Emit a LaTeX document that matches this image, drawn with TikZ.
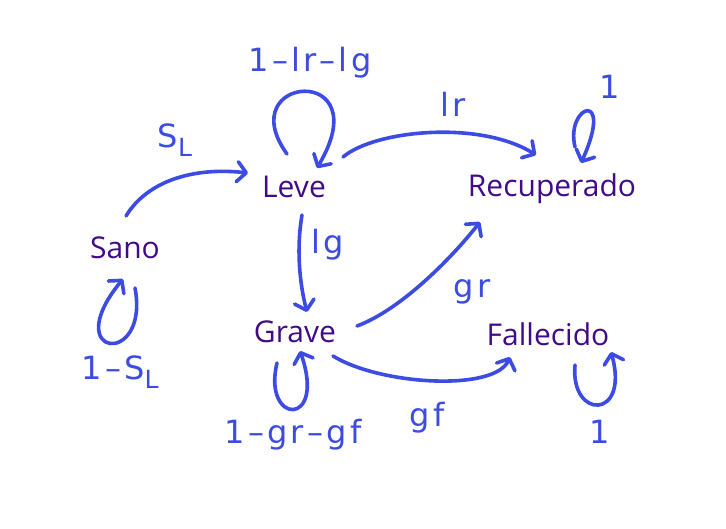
\documentclass[tikz,border=0pt]{standalone}
\usepackage{fontspec}
\setmainfont{Open Sans}
\newfontfamily\handfont[LetterSpace=10]{DejaVu Sans}
\usetikzlibrary{arrows.meta,calc}
\definecolor{stc}{RGB}{65,10,135}
\definecolor{pen}{RGB}{60,75,225}
\newcommand{\subL}{\raisebox{-9pt}{\fontsize{25}{30}\selectfont L}}
\tikzset{
 st/.style={text=stc, font=\fontsize{30}{36}\selectfont, inner sep=0pt, anchor=base},
 lbl/.style={text=pen, font=\handfont\fontsize{32}{38}\selectfont, inner sep=0pt},
 edge/.style={draw=pen, line width=3.6pt, line cap=round, line join=round,
   -{Straight Barb[length=9pt,width=20pt,line cap=round,line join=round]}},
}
\begin{document}
\begin{tikzpicture}[x=1pt,y=-1pt]
\fill[white] (0,0) rectangle (726,529);
\useasboundingbox (0,0) rectangle (726,529);
% states
\node[st] (sano) at (125,259) {Sano};
\node[st] (leve) at (294,198) {Leve};
\node[st] (recup) at (552,197) {Recuperado};
\node[st] (grave) at (295,343) {Grave};
\node[st] (fall) at (548,346) {Fallecido};
% edges
\draw[edge] ($(sano.base)+(1,-43)$) .. controls (148,180) and (195,167) .. ($(leve.base)+(-46,-25)$);
\draw[edge] ($(leve.base)+(-7,-44)$) .. controls (230,75) and (380,62) .. ($(leve.base)+(23,-30)$);
\draw[edge] ($(leve.base)+(49,-41)$) .. controls (375,130) and (480,120) .. ($(recup.base)+(-16,-42)$);
\draw[edge] ($(recup.base)+(23,-50)$) .. controls (565,105) and (615,88) .. ($(recup.base)+(29,-34)$);
\draw[edge] ($(leve.base)+(8,17)$) .. controls (296,250) and (300,285) .. ($(grave.base)+(12,-31)$);
\draw[edge] ($(grave.base)+(62,-17)$) .. controls (400,310) and (450,260) .. ($(recup.base)+(-72,25)$);
\draw[edge] ($(grave.base)+(38,13)$) .. controls (380,385) and (495,392) .. ($(fall.base)+(-38,11)$);
\draw[edge] ($(grave.base)+(-18,20)$) .. controls (262,425) and (327,428) .. ($(grave.base)+(5,8)$);
\draw[edge] ($(sano.base)+(10,29)$) .. controls (150,368) and (58,358) .. ($(sano.base)+(-2,20)$);
\draw[edge] ($(fall.base)+(27,19)$) .. controls (570,420) and (630,420) .. ($(fall.base)+(63,6)$);
% labels
\node[lbl] (lsl) at (175,140) {S\subL};
\node[lbl] (lll) at (310,63) {1–lr–lg};
\node[lbl] (llr) at (453,104) {lr};
\node[lbl] (lrr) at (610,87) {1};
\node[lbl] (llg) at (328,245) {lg};
\node[lbl] (lgr) at (472,292) {gr};
\node[lbl] (lgf) at (427,418) {gf};
\node[lbl] (lgg) at (293,435) {1–gr–gf};
\node[lbl] (lss) at (120,372) {1–S\subL};
\node[lbl] (lff) at (600,432) {1};
\end{tikzpicture}
\end{document}
